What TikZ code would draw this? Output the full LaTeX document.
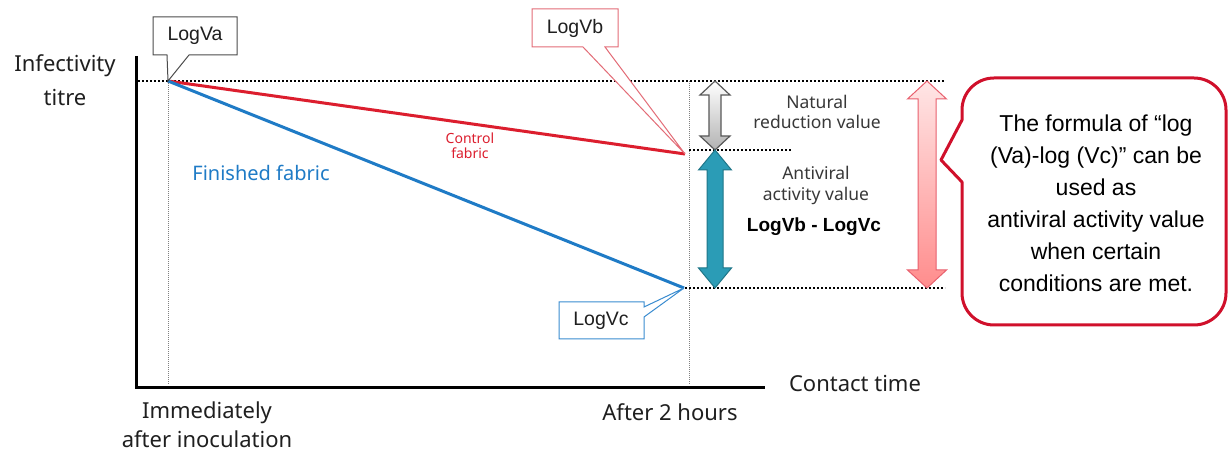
\documentclass[tikz,border=0pt]{standalone}
\usepackage{fontspec}
\setmainfont{Liberation Sans}
\newfontfamily\jpf{Noto Sans}
\definecolor{cred}{HTML}{DC1E2E}
\definecolor{cblue}{HTML}{1F7BC6}
\definecolor{calred}{HTML}{D0102B}
\definecolor{vbred}{HTML}{E36C77}
\definecolor{vcblue}{HTML}{3A8CD0}
\definecolor{cteal}{HTML}{2B9CB6}
\definecolor{ctealdark}{HTML}{1F7688}
\definecolor{pinkborder}{HTML}{E8606E}
\newcommand\dblarrow[7]{%
  \path[#1] (#2,#3) -- ({#2+#6},{#3+#7}) -- ({#2+#5},{#3+#7}) -- ({#2+#5},{#4-#7}) -- ({#2+#6},{#4-#7}) -- (#2,#4) -- ({#2-#6},{#4-#7}) -- ({#2-#5},{#4-#7}) -- ({#2-#5},{#3+#7}) -- ({#2-#6},{#3+#7}) -- cycle;}
\begin{document}
\begin{tikzpicture}[x=1pt,y=-1pt,
  axislbl/.style={font=\jpf\fontsize{22}{34}\selectfont, text=black!88, align=center, inner sep=0},
  smalllbl/.style={font=\jpf\fontsize{17.5}{20.5}\selectfont, text=black!78, align=center, inner sep=0},
  boxlbl/.style={font=\fontsize{19.5}{24}\selectfont, text=black!88, inner sep=0},
  axisline/.style={line width=3pt, black},
  guide/.style={gray, line width=0.8pt, dash pattern=on 1pt off 1pt},
  dotline/.style={black, line width=2pt, dash pattern=on 2pt off 2pt},
  dataline/.style={line width=3pt}]
\useasboundingbox (0,0) rectangle (1229,454);
\fill[white] (0,0) rectangle (1229,454);

% axes
\coordinate (origin) at (136,387);
\coordinate (ytop) at (136,56);
\coordinate (xend) at (765,387);
\draw[axisline] (ytop) -- (origin) -- (xend);

% guide lines
\coordinate (a) at (168,81);
\coordinate (b) at (685,154);
\coordinate (c) at (684,288);
\coordinate (g1t) at (168,81);
\coordinate (g1b) at (168,385);
\coordinate (g2t) at (689,81);
\coordinate (g2b) at (689,385);
\draw[guide] (g1t) -- (g1b);
\draw[guide] (g2t) -- (g2b);

% dotted levels
\coordinate (topl) at (138,81);
\coordinate (topr) at (945,81);
\coordinate (midl) at (689,150);
\coordinate (midr) at (792,150);
\coordinate (botl) at (685,288);
\coordinate (botr) at (945,288);
\draw[dotline] (topl) -- (topr);
\draw[dotline] (midl) -- (midr);
\draw[dotline] (botl) -- (botr);

% data lines
\draw[dataline, cred] (a) -- (b);
\draw[dataline, cblue] (a) -- (c);

% double arrows
\dblarrow{draw=black!65, line width=1.2pt, top color=white, bottom color=black!30, line join=miter}{715}{81}{150}{6}{15}{14}
\dblarrow{draw=ctealdark, line width=1pt, fill=cteal, line join=miter}{715}{150}{288}{8}{16.5}{20}
\dblarrow{draw=pinkborder, line width=1pt, top color=red!10, bottom color=red!45, line join=miter}{927}{81}{288}{9}{19.5}{18}

% callout LogVa
\path[draw=black!70, fill=white, line width=1pt] (153,17) -- (237,17) -- (237,55) -- (189,55) -- (a) -- (167,55) -- (153,55) -- cycle;
\node[boxlbl] (va) at (195,36) {LogVa};

% callout LogVb
\path[draw=vbred, fill=white, line width=1pt] (532,9) -- (618,9) -- (618,47) -- (605,47) -- (b) -- (583,47) -- (532,47) -- cycle;
\node[boxlbl] (vb) at (575,28) {LogVb};

% callout LogVc
\path[draw=vcblue, fill=white, line width=1pt] (559,302) -- (644,302) -- (644,307) -- (c) -- (644,317) -- (644,339) -- (559,339) -- cycle;
\node[boxlbl] (vc) at (601,320.5) {LogVc};

% big callout
\path[draw=calred, fill=white, line width=3pt, line join=round]
  (962,120) -- (941,160) -- (962,182) -- (962,293) arc(180:90:32) -- (1194,325) arc(90:0:32)
  -- (1226,110) arc(0:-90:32) -- (994,78) arc(270:180:32) -- cycle;
\node[font=\fontsize{23}{32}\selectfont, align=center, inner sep=0] (note) at (1096,203)
  {The formula of “log\\(Va)-log (Vc)” can be\\used as\\antiviral activity value\\when certain\\conditions are met.};

% labels
\node[axislbl] (ylab) at (65,80) {Infectivity\\titre};
\node[axislbl] (xlab) at (855,384) {Contact time};
\node[axislbl, font=\jpf\fontsize{22}{29}\selectfont] (t0) at (207,425) {Immediately\\after inoculation};
\node[axislbl] (t2) at (670,412) {After 2 hours};
\node[font=\jpf\fontsize{20}{24}\selectfont, text=cblue, inner sep=0] (fin) at (261,173) {Finished fabric};
\node[font=\jpf\fontsize{14}{15}\selectfont, text=cred, align=center, inner sep=0] (ctrl) at (470,145.5) {Control\\fabric};
\node[smalllbl] (nat) at (817,112) {Natural\\reduction value};
\node[smalllbl, font=\jpf\fontsize{17.5}{21}\selectfont] (anti) at (816,185.5) {Antiviral\\activity value};
\node[font=\bfseries\fontsize{19}{24}\selectfont, inner sep=0] (diff) at (814,227) {LogVb - LogVc};
\end{tikzpicture}
\end{document}
